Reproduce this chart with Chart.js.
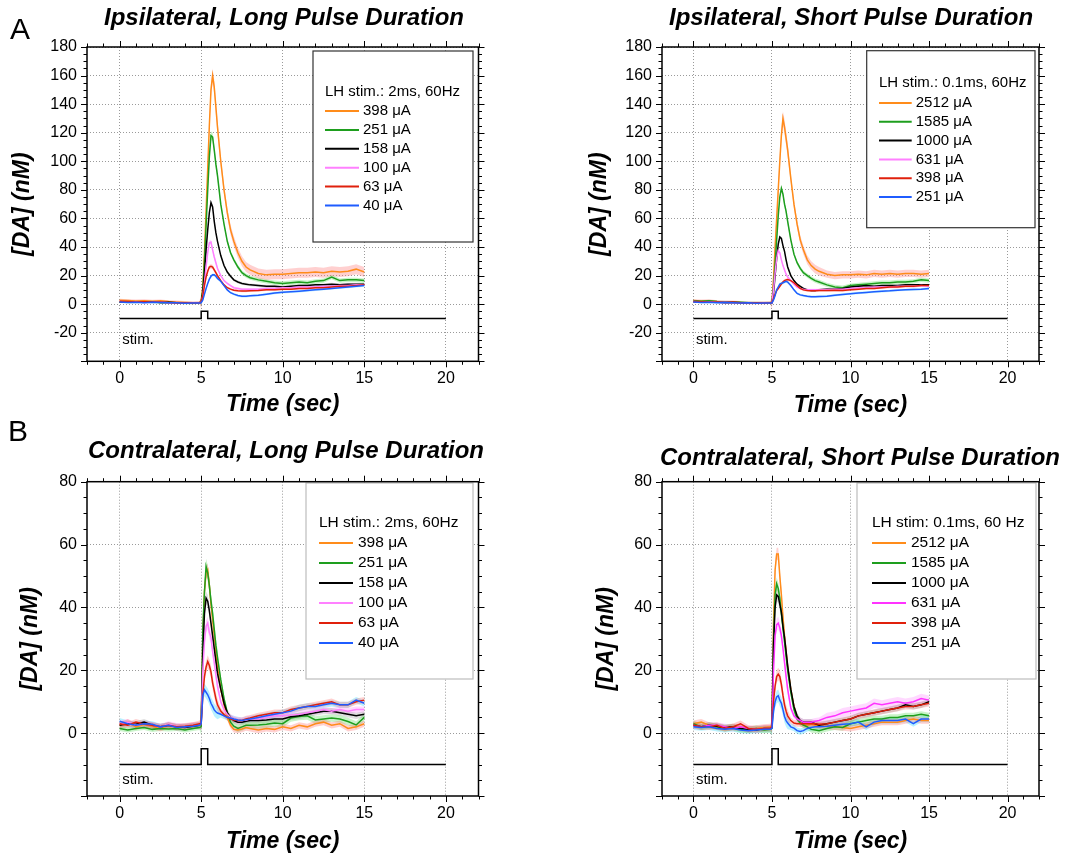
<!DOCTYPE html>
<html>
<head>
<meta charset="utf-8">
<script src="https://cdn.jsdelivr.net/npm/chart.js@4.4.1/dist/chart.umd.min.js"></script>
<style>
  body { margin: 0; background: #fff; width: 1071px; height: 860px; position: relative; overflow: hidden; }
  canvas { position: absolute; }
  .title { position: absolute; font: italic bold 24px "Liberation Sans", Arial, sans-serif; line-height: 28px; white-space: nowrap; transform: translateX(-50%); color: #000; }
  .letter { position: absolute; font: 30px "Liberation Sans", Arial, sans-serif; line-height: 34px; color: #000; }
</style>
</head>
<body>
<canvas id="ipsiLong" width="535" height="430" style="left:0;top:0;width:535px;height:430px"></canvas>
<canvas id="ipsiShort" width="536" height="430" style="left:535px;top:0;width:536px;height:430px"></canvas>
<canvas id="contraLong" width="535" height="430" style="left:0;top:430px;width:535px;height:430px"></canvas>
<canvas id="contraShort" width="536" height="430" style="left:535px;top:430px;width:536px;height:430px"></canvas>

<div class="letter" style="left:10px;top:12px">A</div>
<div class="letter" style="left:8px;top:414px">B</div>
<div class="title" style="left:284px;top:3px">Ipsilateral, Long Pulse Duration</div>
<div class="title" style="left:851px;top:3px">Ipsilateral, Short Pulse Duration</div>
<div class="title" style="left:286px;top:436px">Contralateral, Long Pulse Duration</div>
<div class="title" style="left:860px;top:443px">Contralateral, Short Pulse Duration</div>

<script>
// time base shared by all recordings (s): baseline, peak, decay and tail segments
const time = [0, 0.5, 1, 1.5, 2, 2.5, 3, 3.5, 4, 4.5, 4.9,
  5.0, 5.1, 5.2, 5.3, 5.4, 5.5, 5.6, 5.7, 5.8, 5.9, 6.0,
  6.2, 6.4, 6.6, 6.8, 7.0, 7.25, 7.5, 7.75, 8.0,
  8.5, 9, 9.5, 10, 10.5, 11, 11.5, 12, 12.5, 13, 13.5, 14, 14.5, 15];
const segmentLengths = [11, 11, 9, 14];

const xTickValues = [0, 5, 10, 15, 20];
const yTicksIpsi = [-20, 0, 20, 40, 60, 80, 100, 120, 140, 160, 180];
const yTicksContra = [0, 20, 40, 60, 80];

// stimulation trace
const stimTime = [0, 5, 5, 5.4, 5.4, 20];
const stimLevel = [-10, -10, -5, -5, -10, -10];

const longLabels = ['398 μA', '251 μA', '158 μA', '100 μA', '63 μA', '40 μA'];
const shortLabels = ['2512 μA', '1585 μA', '1000 μA', '631 μA', '398 μA', '251 μA'];

// Ipsilateral, long pulse (nM)
const ipsiLong398 = [2.8, 2.5, 2.2, 2.4, 2.0, 2.3, 1.8, 1.5, 1.2, 1.0, 1.2,
  2, 12, 35, 65, 95, 125, 150, 160, 152, 138, 124,
  100, 80, 64, 52, 44, 36, 30, 26, 24,
  21.5, 20.5, 21, 21, 21.5, 22, 22, 22.5, 22, 23, 22.5, 23, 24.5, 22.5];
const ipsiLong251 = [1.6, 1.5, 1.4, 1.7, 1.5, 1.2, 1.4, 1.0, 0.8, 0.7, 0.9,
  1.5, 10, 30, 55, 80, 103, 118, 117, 108, 98, 90,
  70, 56, 44, 36, 31, 26, 22, 20, 18.5,
  17, 16, 15, 14.5, 15, 15.5, 15, 16, 16.5, 19, 16.5, 17, 17, 16.5];
const ipsiLong158 = [1.5, 1.4, 1.5, 1.3, 1.6, 1.2, 1.3, 1.0, 0.8, 0.9, 1.0,
  1.5, 8, 22, 38, 52, 64, 71, 68, 58, 50, 44,
  34, 27, 22.5, 19.5, 17, 15.5, 14.5, 14, 13.5,
  13, 12.5, 12.5, 12, 12.5, 13, 13, 13.5, 13.5, 14, 13.5, 14, 14, 14];
const ipsiLong100 = [1.8, 1.5, 1.6, 1.2, 1.4, 1.5, 1.0, 1.2, 0.8, 0.9, 1.0,
  1.5, 6, 15, 26, 36, 43, 43.5, 38, 33, 29, 25,
  20, 16.5, 14.5, 13, 11.5, 11, 10.5, 10.5, 10.5,
  10.5, 11, 11, 11.5, 11.5, 12, 12, 12, 12.5, 12.5, 13, 13, 13.5, 13.5];
const ipsiLong63 = [2.0, 1.8, 1.5, 1.6, 1.3, 1.5, 1.2, 1.0, 0.9, 0.8, 1.0,
  1.5, 6, 13, 19, 23, 26, 26.5, 26, 24, 22, 20,
  16.5, 13.5, 11.5, 10.5, 9.8, 9.4, 9.2, 9.2, 9.4,
  9.6, 10, 10, 10.5, 10.5, 11, 11, 11.5, 11.5, 12, 12.5, 12.5, 13, 13.5];
const ipsiLong40 = [1.5, 1.2, 1.4, 1.0, 1.3, 1.1, 0.9, 1.0, 0.7, 0.8, 0.8,
  1, 3, 7, 11, 14.5, 17.5, 19.5, 20.5, 20.5, 19.5, 18,
  16, 13, 10, 8, 7, 6, 5.5, 5.5, 5.8,
  6.2, 7, 7.8, 8.3, 8.6, 9, 9.5, 10, 10.5, 11, 11.5, 12, 12.5, 13];

// Ipsilateral, short pulse (nM)
const ipsiShort2512 = [2.5, 2.2, 2.4, 1.8, 1.5, 1.6, 1.2, 1.0, 0.9, 1.0, 1.2,
  1.5, 18, 40, 60, 80, 100, 118, 130, 124, 116, 108,
  88, 70, 56, 45, 38, 31, 27, 24.5, 23,
  21, 20, 20.5, 20.5, 21, 20.5, 21.5, 21, 21.5, 21, 21.5, 21.5, 21, 21.5];
const ipsiShort1585 = [2.2, 2.0, 2.3, 1.8, 1.6, 1.4, 1.3, 1.0, 1.0, 0.9, 1.0,
  1.2, 12, 28, 45, 62, 75, 81, 77, 70, 65, 58,
  45, 35, 29, 25, 22, 20, 18, 16.5, 15.5,
  13.5, 12, 11.5, 13, 13.5, 14, 14.5, 15, 15, 15.5, 15.5, 16, 17, 16.5];
const ipsiShort1000 = [1.8, 1.6, 1.4, 1.5, 1.2, 1.3, 1.0, 0.9, 1.0, 0.8, 1.0,
  1.0, 8, 20, 32, 42, 47, 46, 41, 37, 31, 26,
  20, 16.5, 14, 12.5, 11, 10, 9.5, 9.5, 10,
  10.5, 10.5, 11, 12, 12.5, 13, 12.5, 13, 13, 13, 13.5, 13.5, 13.5, 13.5];
const ipsiShort631 = [1.8, 1.5, 1.6, 1.3, 1.4, 1.2, 1.0, 1.0, 0.8, 0.9, 1.0,
  1.0, 10, 22, 32, 37.5, 36, 31, 27, 24, 21, 19,
  16.5, 14, 12, 11, 10.5, 10, 10, 10, 10,
  10, 10.5, 10.5, 11, 11.5, 11.5, 12, 12, 12, 12.5, 12.5, 12.5, 13, 12.5];
const ipsiShort398 = [1.8, 1.6, 1.5, 1.4, 1.2, 1.3, 1.0, 1.0, 0.9, 0.8, 1.0,
  1.0, 4, 7, 9.5, 11, 12.5, 14, 15.5, 16.5, 17, 17.2,
  16.5, 15, 13, 11, 10, 9.5, 9.3, 9.3, 9.5,
  9.5, 9.8, 9.5, 10, 10.5, 11, 11, 11.5, 12, 12, 12.5, 12.5, 13, 13];
const ipsiShort251 = [1.5, 1.2, 1.3, 1.0, 1.2, 1.0, 0.8, 0.9, 0.7, 0.8, 0.8,
  0.8, 3, 6, 10, 12, 14, 14.5, 15, 15.5, 16, 15.5,
  13, 10, 7.5, 6.5, 6, 5.5, 5.2, 5.2, 5.3,
  5.6, 6.2, 6.8, 7.3, 7.8, 8.2, 8.6, 9, 9.3, 9.8, 10, 10.3, 10.5, 11];

// Contralateral, long pulse (nM)
const contraLong398 = [2.5, 3.5, 2.0, 2.8, 2.2, 1.5, 2.5, 1.8, 2.0, 2.5, 2.5,
  3, 30, 45, 51, 52, 47, 41, 36, 31, 26, 21,
  14, 9, 5, 2.5, 1.2, 1.0, 1.3, 1.8, 1.5,
  1.0, 1.5, 1.2, 2.0, 1.5, 2.5, 2.0, 3.0, 3.5, 2.5, 3.0, 1.5, 2.0, 3.0];
const contraLong251 = [1.5, 1.0, 1.5, 1.8, 1.2, 1.5, 1.3, 1.5, 1.0, 1.5, 1.8,
  2, 33, 45, 53, 51, 47, 42, 38, 33, 28, 24,
  17, 11, 6.5, 3.5, 2.2, 1.5, 2.0, 2.5, 2.5,
  2.6, 2.8, 3.2, 3.0, 4.8, 5.3, 5.5, 4.2, 4.5, 4.8, 4.5, 3.7, 2.6, 5];
const contraLong158 = [2.5, 3.0, 2.8, 3.5, 2.5, 2.0, 2.5, 2.0, 1.8, 2.2, 2.5,
  3, 25, 38, 43, 42, 39, 35, 31, 27, 23, 19,
  14, 9.5, 6.5, 5, 4, 3.5, 3.5, 3.8, 4,
  4, 4.2, 4.5, 4.5, 5.2, 5.5, 6, 6.5, 7, 7, 6.5, 6, 5.5, 6];
const contraLong100 = [3.0, 3.5, 2.5, 3.0, 2.5, 2.0, 2.8, 2.2, 2.0, 2.5, 2.5,
  3, 20, 29, 34, 35, 32, 30.5, 26, 22.5, 18.5, 15,
  10, 7.5, 6, 5, 4.5, 4, 4, 4.2, 4.5,
  4.5, 5, 5.5, 5.5, 5.8, 6, 6.5, 7, 7.5, 7, 7.5, 7, 7.5, 7.5];
const contraLong63 = [3.0, 2.5, 3.5, 2.8, 2.5, 2.0, 2.5, 2.0, 2.2, 2.5, 3.0,
  3, 12, 18, 21, 22.8, 21.5, 19.5, 16, 13.5, 11, 9,
  7, 5.9, 5, 4.5, 4.2, 4, 4, 4.5, 4.8,
  5.5, 6, 6.5, 6.5, 7.5, 8, 8.5, 9, 9.5, 10, 9, 9, 10, 10.5];
const contraLong40 = [3.8, 3.0, 2.5, 3.0, 2.8, 2.0, 2.5, 1.8, 2.0, 2.2, 2.5,
  3, 12, 13.8, 13, 12.2, 11, 9.5, 8.5, 7.4, 6.8, 6.4,
  6, 5.5, 5, 4.8, 4.5, 4.2, 4, 4.3, 4.5,
  5, 5.5, 6, 6.5, 7, 8, 8.5, 8.5, 9, 9.5, 9, 9, 10.5, 9.5];

// Contralateral, short pulse (nM)
const contraShort2512 = [3.0, 3.5, 2.5, 2.0, 1.5, 2.0, 1.8, 1.2, 1.5, 1.8, 2.0,
  2.5, 35, 52, 57, 57, 50, 44, 37, 31, 26, 21,
  14, 8.5, 5, 3.5, 2.6, 2.5, 2.8, 2.5, 2.5,
  2.2, 2.0, 1.8, 1.5, 2.0, 2.5, 3.0, 3.5, 3.5, 3.5, 4.0, 4.5, 4.0, 4.0];
const contraShort1585 = [3.0, 2.0, 2.5, 2.0, 1.5, 1.8, 1.2, 1.0, 1.5, 1.0, 1.2,
  1.5, 30, 44, 47.5, 46, 43, 38, 33.5, 29, 24.5, 20,
  13, 7.5, 4.5, 3.2, 2.6, 2.0, 1.2, 1.0, 0.8,
  1.5, 2, 1.8, 3, 3.5, 4, 4.5, 4.5, 5, 5, 5.5, 5.5, 6, 5.5];
const contraShort1000 = [2.5, 2.0, 2.5, 2.2, 1.8, 2.0, 1.5, 1.2, 1.0, 1.5, 1.5,
  2, 28, 40, 44, 43.5, 41, 38.5, 34, 30.5, 26, 21.5,
  14, 8.5, 5.5, 4, 3.5, 3.5, 3.5, 3.0, 2.5,
  3.0, 3.5, 4.0, 4.5, 5.5, 6.0, 6.5, 7.0, 7.5, 8.0, 9.0, 8.5, 9.0, 10.0];
const contraShort631 = [2.5, 2.0, 2.5, 2.5, 2.0, 1.5, 2.0, 1.5, 1.2, 1.5, 1.5,
  2, 20, 31, 34.5, 35, 33.5, 31, 27, 22.5, 18, 14,
  8, 5.5, 4.5, 4, 3.5, 3.5, 3.5, 3.8, 4,
  5, 5.5, 6.5, 7, 7.5, 8, 9.5, 9, 9.5, 10, 9.5, 10, 11, 10.5];
const contraShort398 = [2.5, 2.0, 2.0, 2.5, 1.5, 2.0, 3.0, 1.5, 1.2, 1.5, 1.5,
  2, 10, 15, 18, 18.8, 18, 15.5, 12, 9, 7, 5.5,
  4, 3.2, 3, 3, 3, 3, 3, 3, 2.8,
  3, 3.5, 4, 4.5, 5.5, 6, 6.5, 7, 7.5, 8, 8.5, 8.5, 9, 9.5];
const contraShort251 = [2.0, 1.8, 2.0, 1.5, 1.2, 1.5, 1.0, 0.8, 1.0, 1.2, 1.2,
  1.5, 7, 10, 11.5, 11.9, 10.5, 9.5, 7.5, 5.3, 4, 3.2,
  2, 1.6, 0.8, 0.5, 0.8, 1.5, 1.8, 2.0, 2.0,
  2.2, 2.5, 2.8, 3, 3.5, 2, 3.5, 4, 4, 4, 4.5, 3, 4.5, 4.5];

// approximate SEM half-widths of the shaded bands: [baseline, peak, decay, tail] per trace
const semIpsiLong = [[1, 5, 3.5, 3.5], [0.8, 3, 1.5, 1.5], [0.5, 1.5, 1, 1],
  [0.5, 1.5, 0.8, 0.8], [0.5, 1.5, 0.8, 0.8], [0.5, 1, 0.8, 0.8]];
const semIpsiShort = [[1, 5, 3, 2.5], [0.8, 2, 1.5, 1.5], [0.5, 1, 0.8, 0.8],
  [0.5, 1, 0.8, 0.8], [0.5, 1, 0.8, 0.8], [0.5, 1, 0.8, 0.8]];
const semContraLong = [[1, 2, 1, 1], [0.8, 2.5, 1.2, 1.2], [1, 2, 1, 1],
  [1, 2, 1, 1], [1, 2, 1, 1], [1, 2, 1, 1]];
const semContraShort = [[1, 2, 1, 1], [1, 2, 1, 1], [1, 2, 1, 1],
  [1, 2, 1, 1.5], [1, 2, 1, 1], [1, 2, 1, 1]];

const FONT = '"Liberation Sans", Arial, sans-serif';
const lineColors = ['#ff8c1a', '#1e9e1e', '#000000', '#ff80ff', '#e0200c', '#1f5cff'];
const bandColors = ['rgba(255,120,120,0.35)', 'rgba(100,220,100,0.35)', 'rgba(150,150,150,0.3)',
  'rgba(255,160,255,0.4)', 'rgba(255,120,120,0.35)', 'rgba(80,220,255,0.4)'];

const toPoints = (xs, ys) => xs.map((t, i) => ({x: t, y: ys[i]}));

// one SEM value per sample, taken from the segment it falls in
function semPerSample(seg) {
  const out = [];
  segmentLengths.forEach((n, k) => { for (let j = 0; j < n; j++) out.push(seg[k]); });
  return out;
}

function makeLegend(g) {
  return {
    id: 'boxLegend',
    afterDraw(chart) {
      const ctx = chart.ctx;
      ctx.save();
      ctx.fillStyle = '#fff';
      ctx.fillRect(g.box[0], g.box[1], g.box[2], g.box[3]);
      ctx.strokeStyle = g.border;
      ctx.lineWidth = 1.2;
      ctx.strokeRect(g.box[0], g.box[1], g.box[2], g.box[3]);
      ctx.font = g.fontSize + 'px ' + FONT;
      ctx.textBaseline = 'middle';
      ctx.textAlign = 'left';
      ctx.fillStyle = '#000';
      ctx.fillText(g.title, g.lineX0, g.titleY);
      g.labels.forEach((lab, i) => {
        const yy = g.rowY + i * g.rowStep;
        ctx.strokeStyle = g.colors[i];
        ctx.lineWidth = 2;
        ctx.beginPath();
        ctx.moveTo(g.lineX0, yy);
        ctx.lineTo(g.lineX1, yy);
        ctx.stroke();
        ctx.fillStyle = '#000';
        ctx.fillText(lab, g.textX, yy);
      });
      ctx.restore();
    }
  };
}

// frame, mirrored major/minor ticks and the "stim." label
function makeFrame(stimLabelY) {
  return {
    id: 'axisFrame',
    afterDraw(chart) {
      const {ctx, chartArea: a, scales: {x, y}} = chart;
      ctx.save();
      ctx.strokeStyle = '#000';
      ctx.lineWidth = 1;
      ctx.beginPath();
      for (let v = x.min; v <= x.max + 1e-6; v += 1) {
        const p = Math.round(x.getPixelForValue(v)) + 0.5;
        const len = Math.abs(v % 5) < 1e-6 ? 6 : 3.5;
        ctx.moveTo(p, a.bottom); ctx.lineTo(p, a.bottom + len);
        ctx.moveTo(p, a.top); ctx.lineTo(p, a.top - len);
      }
      for (let v = y.min; v <= y.max + 1e-6; v += 5) {
        const p = Math.round(y.getPixelForValue(v)) + 0.5;
        const len = Math.abs(v % 20) < 1e-6 ? 6 : 3.5;
        ctx.moveTo(a.left, p); ctx.lineTo(a.left - len, p);
        ctx.moveTo(a.right, p); ctx.lineTo(a.right + len, p);
      }
      ctx.stroke();
      ctx.lineWidth = 1.5;
      ctx.strokeRect(a.left, a.top, a.right - a.left, a.bottom - a.top);
      ctx.font = '15px ' + FONT;
      ctx.fillStyle = '#000';
      ctx.textBaseline = 'middle';
      ctx.fillText('stim.', x.getPixelForValue(0) + 2.5, y.getPixelForValue(stimLabelY));
      ctx.restore();
    }
  };
}

function buildPanel(id, p) {
  const datasets = [];
  p.series.forEach((s, i) => {
    const sem = semPerSample(p.sem[i]);
    datasets.push({data: toPoints(time, s.map((v, j) => v - sem[j])), borderWidth: 0, pointRadius: 0, fill: false, order: 100});
    datasets.push({data: toPoints(time, s.map((v, j) => v + sem[j])), borderWidth: 0, pointRadius: 0,
      fill: '-1', backgroundColor: bandColors[i], order: 100});
  });
  p.series.forEach((s, i) => {
    datasets.push({data: toPoints(time, s), borderColor: p.colors[i], borderWidth: 1.5,
      pointRadius: 0, fill: false, order: 20 - i});
  });
  datasets.push({data: toPoints(stimTime, stimLevel), borderColor: '#000', borderWidth: 1.5,
    pointRadius: 0, fill: false, order: 0});

  new Chart(document.getElementById(id), {
    type: 'line',
    data: {datasets},
    options: {
      responsive: false,
      animation: false,
      layout: {padding: p.padding},
      plugins: {legend: {display: false}, tooltip: {enabled: false}},
      scales: {
        x: {
          type: 'linear', min: -2, max: 22,
          afterBuildTicks: s => { s.ticks = xTickValues.map(v => ({value: v})); },
          afterFit: s => { s.height = p.xAxisHeight; },
          grid: {color: '#9a9a9a', lineWidth: 1, drawTicks: false},
          border: {display: false, dash: [1, 2]},
          ticks: {color: '#000', font: {family: FONT, size: 16}, padding: 8, maxRotation: 0},
          title: {display: true, text: 'Time (sec)', color: '#000',
            font: {family: FONT, size: 23, weight: 'bold', style: 'italic'},
            padding: {top: 0, bottom: p.xTitlePad}}
        },
        y: {
          type: 'linear', min: p.yMin, max: p.yMax,
          afterBuildTicks: s => { s.ticks = p.yTicks.map(v => ({value: v})); },
          afterFit: s => { s.width = 87; },
          grid: {color: '#9a9a9a', lineWidth: 1, drawTicks: false},
          border: {display: false, dash: [1, 2]},
          ticks: {color: '#000', font: {family: FONT, size: 16}, padding: 10},
          title: {display: true, text: '[DA] (nM)', color: '#000',
            font: {family: FONT, size: 23, weight: 'bold', style: 'italic'},
            padding: {top: p.yTitlePad, bottom: 0}}
        }
      }
    },
    plugins: [makeLegend(p.legend), makeFrame(p.stimLabelY)]
  });
}

buildPanel('ipsiLong', {
  series: [ipsiLong398, ipsiLong251, ipsiLong158, ipsiLong100, ipsiLong63, ipsiLong40],
  sem: semIpsiLong, colors: lineColors,
  yMin: -40, yMax: 180, yTicks: yTicksIpsi, stimLabelY: -25,
  padding: {left: 0, right: 56.5, top: 47, bottom: 0}, xAxisHeight: 68.7, xTitlePad: 11.2, yTitlePad: 9.2,
  legend: {box: [313, 51, 160, 191], border: '#333', fontSize: 15, title: 'LH stim.: 2ms, 60Hz', titleY: 92,
    rowY: 111, rowStep: 18.9, lineX0: 325, lineX1: 359, textX: 363, labels: longLabels, colors: lineColors}
});

buildPanel('ipsiShort', {
  series: [ipsiShort2512, ipsiShort1585, ipsiShort1000, ipsiShort631, ipsiShort398, ipsiShort251],
  sem: semIpsiShort, colors: lineColors,
  yMin: -40, yMax: 180, yTicks: yTicksIpsi, stimLabelY: -25,
  padding: {left: 40, right: 32, top: 47, bottom: 0}, xAxisHeight: 68.7, xTitlePad: 10.2, yTitlePad: 11.2,
  legend: {box: [331.7, 50.7, 168.3, 177], border: '#333', fontSize: 15, title: 'LH stim.: 0.1ms, 60Hz', titleY: 83,
    rowY: 103, rowStep: 18.8, lineX0: 344, lineX1: 376.7, textX: 380.7, labels: shortLabels, colors: lineColors}
});

buildPanel('contraLong', {
  series: [contraLong398, contraLong251, contraLong158, contraLong100, contraLong63, contraLong40],
  sem: semContraLong, colors: lineColors,
  yMin: -20, yMax: 80, yTicks: yTicksContra, stimLabelY: -15,
  padding: {left: 0, right: 56.5, top: 51.7, bottom: 0}, xAxisHeight: 64, xTitlePad: 4.5, yTitlePad: 17.2,
  legend: {box: [306, 53, 167, 196], border: '#bdbdbd', fontSize: 15.5, title: 'LH stim.: 2ms, 60Hz', titleY: 93,
    rowY: 113, rowStep: 20, lineX0: 319, lineX1: 353, textX: 358, labels: longLabels, colors: lineColors}
});

const contraShortColors = ['#ff8c1a', '#1e9e1e', '#000000', '#ff33ff', '#e0200c', '#1f5cff'];
buildPanel('contraShort', {
  series: [contraShort2512, contraShort1585, contraShort1000, contraShort631, contraShort398, contraShort251],
  sem: semContraShort, colors: contraShortColors,
  yMin: -20, yMax: 80, yTicks: yTicksContra, stimLabelY: -15,
  padding: {left: 40, right: 32, top: 51.7, bottom: 0}, xAxisHeight: 64, xTitlePad: 4.5, yTitlePad: 18.2,
  legend: {box: [322, 53, 179, 196], border: '#bdbdbd', fontSize: 15.5, title: 'LH stim: 0.1ms, 60 Hz', titleY: 93,
    rowY: 113, rowStep: 20, lineX0: 337, lineX1: 371, textX: 376, labels: shortLabels, colors: contraShortColors}
});
</script>
</body>
</html>
